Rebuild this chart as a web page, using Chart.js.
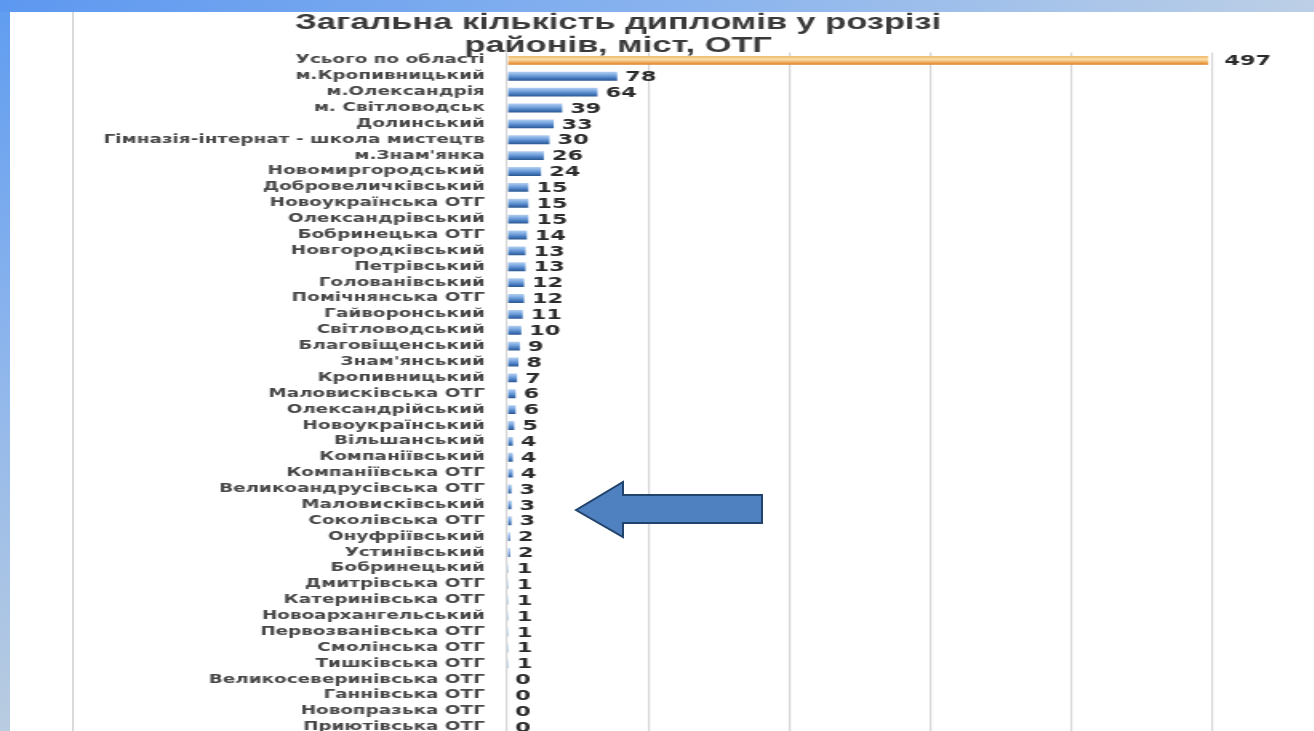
<!DOCTYPE html>
<html lang="uk">
<head>
<meta charset="utf-8">
<title>Загальна кількість дипломів</title>
<script src="https://cdn.jsdelivr.net/npm/chart.js"></script>
<style>
    html, body { margin: 0; padding: 0; background: #fff; overflow: hidden; }
    body { width: 1314px; height: 731px; position: relative; }
    /* slide decoration: blue bars on the left and top */
    .edge-left {
        position: absolute; left: 0; top: 0; width: 10px; height: 731px;
        background: linear-gradient(to bottom, #5f9cf0, #8fb6ec 50%, #b9cce0);
        z-index: 3;
    }
    .edge-top {
        position: absolute; left: 0; top: 0; width: 1314px; height: 12px;
        background: linear-gradient(to right, #5d98f0, #8cb5ee 55%, #bccfe6);
        z-index: 3;
    }
    .frame-line {
        position: absolute; left: 72px; top: 12px; width: 2px; height: 719px;
        background: #dadada; z-index: 2;
    }
    /* the source slide is stretched horizontally, so the chart is too */
    .chart-box {
        position: absolute; left: 0; top: 0;
        width: 821.25px; height: 756px;
        transform: scaleX(1.6); transform-origin: 0 0;
    }
    .arrow { position: absolute; left: 0; top: 0; z-index: 4; }
</style>
</head>
<body>
<div class="chart-box"><canvas id="diplomaChart"></canvas></div>
<div class="frame-line"></div>
<div class="edge-left"></div>
<div class="edge-top"></div>
<svg class="arrow" width="1314" height="731">
    <polygon points="576,510 623,482 623,495 762,495 762,523 623,523 623,537"
             fill="#4f81c0" stroke="#22436b" stroke-width="2" stroke-linejoin="miter"/>
</svg>

<script>
// Chart data
const titleLines = ['Загальна кількість дипломів у розрізі', 'районів, міст, ОТГ'];

const units = [
    'Усього по області', 'м.Кропивницький', 'м.Олександрія', 'м. Світловодськ',
    'Долинський', 'Гімназія-інтернат - школа мистецтв', 'м.Знам\'янка', 'Новомиргородський',
    'Добровеличківський', 'Новоукраїнська ОТГ', 'Олександрівський', 'Бобринецька ОТГ',
    'Новгородківський', 'Петрівський', 'Голованівський', 'Помічнянська ОТГ',
    'Гайворонський', 'Світловодський', 'Благовіщенський', 'Знам\'янський',
    'Кропивницький', 'Маловисківська ОТГ', 'Олександрійський', 'Новоукраїнський',
    'Вільшанський', 'Компаніївський', 'Компаніївська ОТГ', 'Великоандрусівська ОТГ',
    'Маловисківський', 'Соколівська ОТГ', 'Онуфріївський', 'Устинівський',
    'Бобринецький', 'Дмитрівська ОТГ', 'Катеринівська ОТГ', 'Новоархангельський',
    'Первозванівська ОТГ', 'Смолінська ОТГ', 'Тишківська ОТГ', 'Великосеверинівська ОТГ',
    'Ганнівська ОТГ', 'Новопразька ОТГ', 'Приютівська ОТГ'
];

const diplomas = [
    497, 78, 64, 39,
    33, 30, 26, 24,
    15, 15, 15, 14,
    13, 13, 12, 12,
    11, 10, 9, 8,
    7, 6, 6, 5,
    4, 4, 4, 3,
    3, 3, 2, 2,
    1, 1, 1, 1,
    1, 1, 1, 0,
    0, 0, 0
];

const axisMin = 0;
const axisMax = 500;
const axisStep = 100;

// Excel-like shaded bars: the total is orange, the rest blue
const blueStops = [[0, '#b3cff0'], [0.35, '#7ca9e2'], [0.75, '#4175b9'], [1, '#2b568f']];
const orangeStops = [[0, '#f0b86c'], [0.4, '#f9dda6'], [0.75, '#efa554'], [1, '#d47f22']];

function barFill(ctx) {
    const stops = ctx.dataIndex === 0 ? orangeStops : blueStops;
    const el = ctx.element;
    if (!el || !isFinite(el.y) || !el.height) {
        return stops[2][1];
    }
    const g = ctx.chart.ctx.createLinearGradient(0, el.y - el.height / 2, 0, el.y + el.height / 2);
    stops.forEach(([pos, color]) => g.addColorStop(pos, color));
    return g;
}

// Values printed to the right of each bar
const valueLabels = {
    id: 'valueLabels',
    afterDatasetsDraw(chart) {
        const { ctx } = chart;
        const meta = chart.getDatasetMeta(0);
        ctx.save();
        ctx.font = 'bold 14px "DejaVu Sans", sans-serif';
        ctx.fillStyle = '#2b2b2b';
        ctx.textAlign = 'left';
        ctx.textBaseline = 'middle';
        meta.data.forEach((bar, i) => {
            const gap = i === 0 ? 10 : 5;
            ctx.fillText(String(diplomas[i]), bar.x + gap, bar.y + 1);
        });
        ctx.restore();
    }
};

const chart = new Chart(document.getElementById('diplomaChart'), {
    type: 'bar',
    data: {
        labels: units,
        datasets: [{
            data: diplomas,
            backgroundColor: barFill,
            borderWidth: 0,
            categoryPercentage: 1,
            barPercentage: 0.56
        }]
    },
    options: {
        indexAxis: 'y',
        responsive: true,
        maintainAspectRatio: false,
        animation: false,
        layout: {
            padding: { left: 15, right: 63.5, top: 0, bottom: 9 }
        },
        plugins: {
            legend: { display: false },
            tooltip: { enabled: false },
            title: {
                display: true,
                text: titleLines,
                color: '#3a3a3a',
                font: { family: '"Liberation Sans", Arial, sans-serif', size: 21.5, weight: 'bold', lineHeight: 1.08 },
                padding: { top: 11, bottom: -5 }
            }
        },
        scales: {
            x: {
                min: axisMin,
                max: axisMax,
                ticks: { stepSize: axisStep, display: false },
                grid: { color: '#d6d6d6', lineWidth: 1.2, drawTicks: false },
                border: { display: false }
            },
            y: {
                grid: { display: false, drawTicks: false },
                border: { display: false },
                ticks: {
                    autoSkip: false,
                    padding: 14,
                    color: '#474747',
                    font: { family: '"DejaVu Sans", Verdana, sans-serif', size: 11.5, weight: 'bold' }
                },
                afterFit(scale) {
                    scale.width = 302;
                }
            }
        }
    },
    plugins: [valueLabels]
});

// second pass so the bar gradients know where each bar sits
chart.update();
</script>
</body>
</html>
